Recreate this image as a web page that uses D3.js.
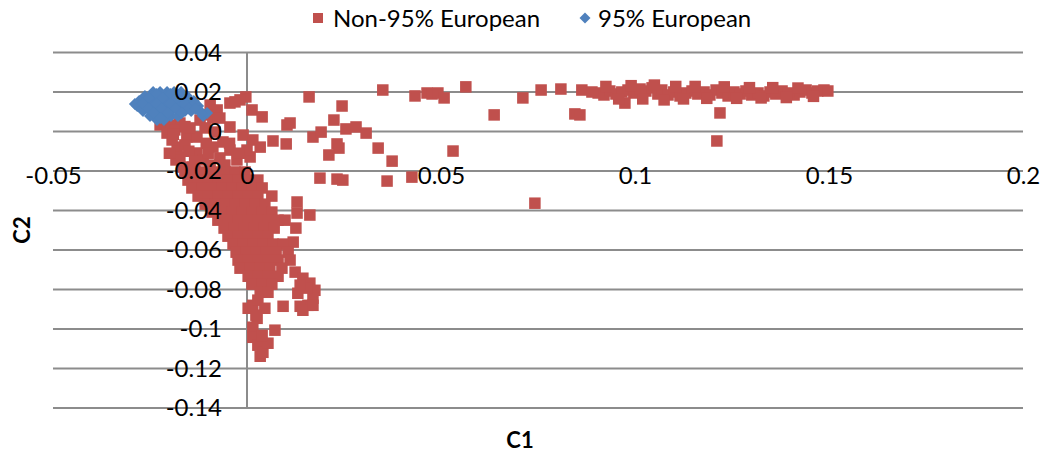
<!DOCTYPE html>
<html>
<head>
<meta charset="utf-8">
<script src="https://cdn.jsdelivr.net/npm/d3@7"></script>
<style>
  html, body { margin: 0; padding: 0; background: #fff; }
  svg { display: block; }
  text { font-family: Lato, "Open Sans", sans-serif; }
</style>
</head>
<body>
<svg id="chart" width="1044" height="458"></svg>
<script>
// Series names and axis ticks
const seriesNames = ["Non-95% European", "95% European"];
const xTicks = [-0.05, 0, 0.05, 0.1, 0.15, 0.2];
const xTickLabels = ["-0.05", "0", "0.05", "0.1", "0.15", "0.2"];
const yTicks = [0.04, 0.02, 0, -0.02, -0.04, -0.06, -0.08, -0.1, -0.12, -0.14];
const yTickLabels = ["0.04", "0.02", "0", "-0.02", "-0.04", "-0.06", "-0.08", "-0.1", "-0.12", "-0.14"];
const axisTitles = { x: "C1", y: "C2" };

// [C1, C2] for samples that are not 95% European
const nonEuropean = [
  // upper arm reaching to the right
  [0.0160,0.0175],[0.0350,0.0210],[0.0433,0.0180],[0.0464,0.0195],[0.0477,0.0190],[0.0492,0.0195],
  [0.0508,0.0170],[0.0564,0.0226],[0.0637,0.0084],[0.0711,0.0170],[0.0758,0.0210],[0.0809,0.0215],
  [0.0845,0.0089],[0.0858,0.0084],[0.0863,0.0210],[0.0889,0.0200],
  [0.0905,0.0195],[0.0920,0.0185],[0.0935,0.0205],[0.0951,0.0190],[0.0966,0.0200],[0.0974,0.0144],
  [0.0982,0.0210],[0.0997,0.0195],[0.1013,0.0215],[0.1028,0.0205],[0.1044,0.0221],[0.1059,0.0190],
  [0.1069,0.0210],[0.1085,0.0185],[0.1100,0.0200],[0.1116,0.0180],[0.1131,0.0195],[0.1147,0.0205],
  [0.1162,0.0190],[0.1178,0.0200],[0.1193,0.0185],[0.1209,0.0210],[0.1219,0.0094],[0.1211,-0.0048],
  [0.1224,0.0195],[0.1240,0.0180],[0.1255,0.0200],[0.1271,0.0190],[0.1286,0.0205],[0.1301,0.0185],
  [0.1317,0.0195],[0.1332,0.0180],[0.1348,0.0200],[0.1363,0.0190],[0.1379,0.0205],[0.1394,0.0195],
  [0.1410,0.0185],[0.1425,0.0200],[0.1441,0.0210],[0.1456,0.0195],[0.1471,0.0205],[0.1487,0.0210],
  [0.1497,0.0205],
  [0.0925,0.0228],[0.0958,0.0165],[0.0990,0.0232],[0.1020,0.0165],[0.1050,0.0235],[0.1075,0.0160],
  [0.1105,0.0228],[0.1125,0.0165],[0.1155,0.0228],[0.1185,0.0168],[0.1230,0.0226],[0.1262,0.0168],
  [0.1295,0.0222],[0.1325,0.0170],[0.1355,0.0222],[0.1390,0.0172],[0.1420,0.0220],[0.1460,0.0178],
  // scattered middle
  [0.0245,0.0129],[0.0224,0.0058],[0.0103,0.0033],[0.0111,0.0043],[0.0170,-0.0028],[0.0191,-0.0003],
  [0.0255,0.0013],[0.0281,0.0023],[0.0307,-0.0008],[0.0101,-0.0063],[0.0232,-0.0063],[0.0237,-0.0084],
  [0.0211,-0.0119],[0.0338,-0.0084],[0.0374,-0.0150],[0.0531,-0.0099],[0.0188,-0.0236],[0.0232,-0.0241],
  [0.0247,-0.0246],[0.0361,-0.0251],[0.0425,-0.0231],[0.0742,-0.0363],
  [0.0129,-0.0357],[0.0129,-0.0413],[0.0162,-0.0423],[0.0119,-0.0560],[0.0126,-0.0489],
  // around the European group and the vertical axis
  [-0.0003,0.0175],[-0.0018,0.0160],[-0.0044,0.0144],[-0.0031,0.0150],[0.0013,0.0109],[0.0039,0.0074],
  [-0.0095,0.0134],[-0.0077,0.0109],[-0.0088,0.0068],[-0.0103,0.0084],[-0.0121,0.0058],[-0.0070,0.0068],
  [-0.0173,0.0043],[-0.0198,0.0033],[-0.0224,0.0033],[-0.0206,-0.0008],[-0.0186,0.0008],[-0.0155,-0.0028],
  [-0.0129,-0.0028],[-0.0180,-0.0079],[-0.0173,-0.0129],[-0.0129,-0.0109],[-0.0088,-0.0079],[-0.0044,-0.0094],
  [-0.0026,-0.0144],[0.0008,-0.0129],[-0.0044,0.0023],[-0.0010,-0.0018],[0.0015,-0.0043],[-0.0062,-0.0053],
  [-0.0082,-0.0003],[-0.0108,0.0018],[-0.0147,0.0018],[-0.0160,-0.0068],[-0.0193,-0.0043],[-0.0183,-0.0144],
  [-0.0165,-0.0180],[-0.0139,-0.0180],[-0.0113,-0.0144],[-0.0070,-0.0134],[0.0000,-0.0094],[0.0034,-0.0079],
  [0.0067,-0.0048],[-0.0095,-0.0170],[-0.0057,-0.0170],[-0.0150,-0.0100],[-0.0105,-0.0060],[-0.0200,-0.0110],
  [-0.0135,-0.0150],[-0.0045,-0.0060],[-0.0160,0.0025],[-0.0190,-0.0015],[-0.0100,-0.0110],[-0.0020,-0.0110],
  // main downward band
  [-0.0160,-0.0205],[-0.0134,-0.0205],[-0.0108,-0.0205],[-0.0082,-0.0205],[-0.0057,-0.0205],[-0.0031,-0.0205],[-0.0005,-0.0205],
  [-0.0152,-0.0246],[-0.0126,-0.0246],[-0.0101,-0.0246],[-0.0075,-0.0246],[-0.0049,-0.0246],[-0.0023,-0.0246],[0.0003,-0.0246],[0.0028,-0.0246],
  [-0.0142,-0.0286],[-0.0116,-0.0286],[-0.0090,-0.0286],[-0.0064,-0.0286],[-0.0039,-0.0286],[-0.0013,-0.0286],[0.0013,-0.0286],[0.0039,-0.0286],
  [-0.0126,-0.0327],[-0.0101,-0.0327],[-0.0075,-0.0327],[-0.0049,-0.0327],[-0.0023,-0.0327],[0.0003,-0.0327],[0.0028,-0.0327],[0.0064,-0.0327],
  [-0.0108,-0.0368],[-0.0082,-0.0368],[-0.0057,-0.0368],[-0.0031,-0.0368],[-0.0005,-0.0368],[0.0021,-0.0368],[0.0046,-0.0368],
  [-0.0090,-0.0408],[-0.0064,-0.0408],[-0.0039,-0.0408],[-0.0013,-0.0408],[0.0013,-0.0408],[0.0039,-0.0408],[0.0064,-0.0408],
  [-0.0075,-0.0449],[-0.0049,-0.0449],[-0.0023,-0.0449],[0.0003,-0.0449],[0.0028,-0.0449],[0.0054,-0.0449],[0.0080,-0.0449],[0.0098,-0.0449],
  [-0.0059,-0.0489],[-0.0034,-0.0489],[-0.0008,-0.0489],[0.0018,-0.0489],[0.0044,-0.0489],[0.0070,-0.0489],
  [-0.0049,-0.0530],[-0.0023,-0.0530],[0.0003,-0.0530],[0.0028,-0.0530],[0.0054,-0.0530],
  [-0.0036,-0.0570],[-0.0010,-0.0570],[0.0015,-0.0570],[0.0041,-0.0570],[0.0067,-0.0570],[0.0093,-0.0570],
  [-0.0028,-0.0611],[-0.0003,-0.0611],[0.0023,-0.0611],[0.0049,-0.0611],[0.0075,-0.0611],[0.0106,-0.0611],
  [-0.0023,-0.0651],[0.0003,-0.0651],[0.0028,-0.0651],[0.0054,-0.0651],[0.0080,-0.0651],[0.0111,-0.0651],
  [-0.0018,-0.0692],[0.0008,-0.0692],[0.0034,-0.0692],[0.0059,-0.0692],[0.0090,-0.0692],
  [0.0003,-0.0733],[0.0028,-0.0733],[0.0054,-0.0733],[0.0080,-0.0733],
  [0.0013,-0.0773],[0.0039,-0.0773],[0.0064,-0.0773],
  [0.0034,-0.0814],[0.0054,-0.0814],
  // side lobe
  [0.0124,-0.0712],[0.0144,-0.0743],[0.0162,-0.0768],[0.0175,-0.0804],[0.0170,-0.0844],[0.0157,-0.0880],
  [0.0137,-0.0885],[0.0144,-0.0905],[0.0131,-0.0819],[0.0155,-0.0793],[0.0137,-0.0778],[0.0170,-0.0880],
  // lower tail
  [0.0003,-0.0895],[0.0015,-0.0880],[0.0028,-0.0854],[0.0046,-0.0895],[0.0093,-0.0885],[0.0026,-0.0946],
  [0.0015,-0.0991],[0.0015,-0.1042],[0.0028,-0.1082],[0.0034,-0.1138],[0.0041,-0.1118],[0.0054,-0.1072],
  [0.0072,-0.1006],[0.0039,-0.1032],[0.0023,-0.0930]
];

// [C1, C2] for samples that are 95% European
const european = [
  [-0.0242,0.0200],[-0.0224,0.0200],[-0.0206,0.0200],[-0.0188,0.0200],[-0.0170,0.0200],
  [-0.0263,0.0180],[-0.0245,0.0180],[-0.0227,0.0180],[-0.0209,0.0180],[-0.0191,0.0180],[-0.0173,0.0180],[-0.0155,0.0180],
  [-0.0278,0.0155],[-0.0260,0.0155],[-0.0242,0.0155],[-0.0224,0.0155],[-0.0206,0.0155],[-0.0188,0.0155],[-0.0170,0.0155],[-0.0152,0.0155],[-0.0137,0.0155],
  [-0.0283,0.0129],[-0.0265,0.0129],[-0.0247,0.0129],[-0.0229,0.0129],[-0.0211,0.0129],[-0.0193,0.0129],[-0.0175,0.0129],[-0.0157,0.0129],[-0.0142,0.0129],[-0.0126,0.0129],
  [-0.0268,0.0104],[-0.0250,0.0104],[-0.0232,0.0104],[-0.0214,0.0104],[-0.0196,0.0104],[-0.0178,0.0104],[-0.0160,0.0104],[-0.0144,0.0104],[-0.0121,0.0104],
  [-0.0250,0.0079],[-0.0232,0.0079],[-0.0214,0.0079],[-0.0196,0.0079],[-0.0178,0.0079],[-0.0113,0.0079],
  [-0.0232,0.0058],[-0.0214,0.0058],
  [-0.0289,0.0139],[-0.0103,0.0094],
  [-0.0233,0.0190],[-0.0197,0.0190],[-0.0162,0.0168],[-0.0254,0.0168],[-0.0218,0.0168],[-0.0182,0.0168],
  [-0.0269,0.0142],[-0.0233,0.0142],[-0.0197,0.0142],[-0.0161,0.0142],[-0.0134,0.0142],
  [-0.0256,0.0117],[-0.0220,0.0117],[-0.0184,0.0117],[-0.0150,0.0117],[-0.0133,0.0115],
  [-0.0241,0.0092],[-0.0205,0.0092],[-0.0169,0.0092],[-0.0118,0.0092],[-0.0223,0.0068]
];

const colors = { nonEuropean: "#C0504D", european: "#4F81BD" };
const gridColor = "#8c8c8c";

const svg = d3.select("#chart");
svg.append("rect").attr("width", 1044).attr("height", 458).attr("fill", "#fff");

const x = d3.scaleLinear().domain([-0.05, 0.2]).range([53, 1023]);
const y = d3.scaleLinear().domain([-0.14, 0.04]).range([408, 52.5]);

// horizontal gridlines
svg.append("g")
  .selectAll("line")
  .data(yTicks)
  .join("line")
  .attr("x1", x.range()[0]).attr("x2", x.range()[1])
  .attr("y1", d => y(d)).attr("y2", d => y(d))
  .attr("stroke", gridColor).attr("stroke-width", 2);

// vertical axis line at C1 = 0
svg.append("line")
  .attr("x1", x(0)).attr("x2", x(0))
  .attr("y1", y.range()[1]).attr("y2", y.range()[0])
  .attr("stroke", gridColor).attr("stroke-width", 2);

const diamond = (cx, cy, r) => {
  const p = d3.path();
  p.moveTo(cx, cy - r); p.lineTo(cx + r, cy); p.lineTo(cx, cy + r); p.lineTo(cx - r, cy); p.closePath();
  return p.toString();
};

// markers
const sq = 11.5;
svg.append("g")
  .selectAll("rect")
  .data(nonEuropean)
  .join("rect")
  .attr("x", d => x(d[0]) - sq / 2)
  .attr("y", d => y(d[1]) - sq / 2)
  .attr("width", sq).attr("height", sq)
  .attr("fill", colors.nonEuropean);

svg.append("g")
  .selectAll("path")
  .data(european)
  .join("path")
  .attr("d", d => diamond(x(d[0]), y(d[1]), 6))
  .attr("fill", colors.european);

// axis labels (drawn above the markers)
const fontSize = 24;
const font = "Lato, 'Open Sans', sans-serif";
const yAxis = d3.axisLeft(y).tickValues(yTicks).tickSize(0).tickPadding(25)
  .tickFormat((d, i) => yTickLabels[i]);
const gy = svg.append("g").attr("transform", `translate(${x(0)},0)`).call(yAxis);
gy.select(".domain").remove();
gy.selectAll("text").attr("font-size", fontSize).attr("font-family", font).attr("fill", "#000");

const xAxis = d3.axisBottom(x).tickValues(xTicks).tickSize(0).tickPadding(35)
  .tickFormat((d, i) => xTickLabels[i]);
const gx = svg.append("g").attr("transform", `translate(0,${y(0)})`).call(xAxis);
gx.select(".domain").remove();
gx.selectAll("text").attr("font-size", fontSize).attr("font-family", font).attr("fill", "#000");

// axis titles
svg.append("text")
  .attr("x", 520).attr("y", 448)
  .attr("text-anchor", "middle")
  .attr("font-size", 22).attr("font-weight", "bold")
  .text(axisTitles.x);

svg.append("text")
  .attr("transform", "translate(30,230) rotate(-90)")
  .attr("text-anchor", "middle")
  .attr("font-size", 22).attr("font-weight", "bold")
  .text(axisTitles.y);

// legend
const legend = svg.append("g");
legend.append("rect")
  .attr("x", 313).attr("y", 13).attr("width", 10).attr("height", 10)
  .attr("fill", colors.nonEuropean);
legend.append("text")
  .attr("x", 333).attr("y", 26.5)
  .attr("font-size", fontSize)
  .text(seriesNames[0]);
legend.append("path")
  .attr("d", diamond(585, 18, 5.5))
  .attr("fill", colors.european);
legend.append("text")
  .attr("x", 598).attr("y", 26.5)
  .attr("font-size", fontSize)
  .text(seriesNames[1]);
</script>
</body>
</html>
